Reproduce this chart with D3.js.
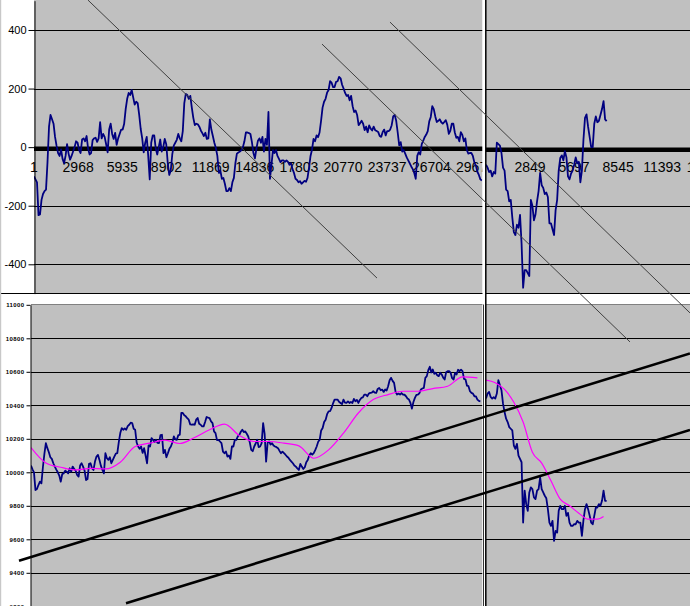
<!DOCTYPE html>
<html><head><meta charset="utf-8">
<script src="https://cdn.jsdelivr.net/npm/d3@7"></script>
<style>html,body{margin:0;padding:0;background:#fff;overflow:hidden}</style>
</head><body><svg id="c" width="690" height="606"></svg>
<script>
// ---------------- data ----------------
const topTicks = [400, 200, 0, -200, -400];
const bottomTicks = [11000, 10800, 10600, 10400, 10200, 10000, 9800, 9600, 9400, 9200];
const leftCatLabels = [1, 2968, 5935, 8902, 11869, 14836, 17803, 20770, 23737, 26704, 29671];
const rightCatLabels = [2849, 5697, 8545, 11393, 14241];

const TL_STEP = 202;   // category spacing of the on-grid samples (left upper chart)
const BL_STEP = 200;   // left lower chart
const R_STEP = 200;    // right charts

// upper left: on-grid samples and the readings half-way between them
const topLeftValues = [
  -100, -120, -230, -160, -145, 70, 95, 35, -20, -8,
  -55, 10, -43, -15, 20, -10, 26, 20, -5, -20,
  30, 18, 85, 45, 10, 60, 45, 49, 30, 60,
  80, 165, 178, 170, 155, 110, 30, 15, -30, 15,
  40, -25, 26, 0, 10, -95, -25, 15, 45, 20,
  150, 178, 175, 100, 80, 70, 48, 49, 30, 60,
  15, -30, -80, -105, -150, -140, -120, -55, -18, -10,
  20, 50, 45, -20, -5, 30, 35, 28, 120, -60,
  -20, -30, -51, -45, -45, -60, -75, -108, -120, -125,
  -115, -105, -30, 28, 40, 50, 135, 165, 195, 220,
  205, 225, 235, 200, 175, 160, 140, 125, 75, 90,
  58, 51, 63, 70, 55, 38, 52, 40, 55, 75,
  110, 50, 17, -10, -35, -55, -75, -108, -17, 10,
  35, 55, 103, 130, 86, 95, 80, 92, 45, 80,
  50, 35, 51, 20, -10, -20, -30, -63, -95, -114
];
const topLeftMid = [
  -110, -232, -180, -150, -50, 110, 80, 5, -30, -40,
  -30, -22, -30, 0, 15, -20, 30, 38, -25, 24,
  32, 30, 30, 35, -18, 80, 28, 8, 45, 60,
  130, 185, 195, 145, 150, 62, -18, 35, -110, 40,
  -5, 0, -15, 28, -55, -80, 5, 25, 30, 55,
  182, 165, 135, 75, 78, 57, 38, 28, 95, 38,
  -3, -88, -108, -125, -150, -150, -105, -22, -15,
  0, 50, 48, 17, -38, 22, 15, -15, 8, -108,
  -10, -10, -40, -45, -50, -50, -55, -88, -112, -116,
  -120, -118, -70, -8, 20, 34, 90, 155, 186, 225,
  205, 223, 240, 213, 185, 178, 175, 120, 110, 82,
  80, 70, 74, 57, 58, 52, 35, 60, 55, 60,
  105, 90, 6, -15, -22, -45, -66, -88, -30, -25,
  22, 43, 88, 140, 105, 90, 85, 86, 76, 56,
  80, 32, 20, 42, 30, -22, -20, -52, -84, -110
];

const topRightValues = [
  -60, -85, -100, -90, 10, -20, -80, -150, -180, -290,
  -265, -231, -480, -420, -440, -200, -230, -150, -130, -160,
  -170, -260, -300, -180, -37, -45, -35, -110, -80, -35,
  -50, -80, 100, 70, 0, 80, 85, 110, 157, 89
];
const topRightMid = [
  -70, -80, -85, 15, 5, -70, -145, -185, -240, -300,
  -275, -330, -420, -430, -180, -250, -185, -88, -139, -155,
  -260, -280, -215, -80, -28, -14, -100, -90, -60, -55,
  -120, 25, 112, 35, 0, 105, 90, 130, 95
];

const bottomLeftValues = [
  10040, 10000, 9900, 9944, 10030, 10174, 10120, 10080, 10034, 10000,
  9944, 9994, 10004, 10024, 10034, 10010, 9974, 10054, 10010, 9960,
  10054, 10014, 10094, 10074, 10014, 10114, 10074, 10054, 10094, 10114,
  10234, 10254, 10254, 10284, 10294, 10254, 10154, 10154, 10144, 10054,
  10154, 10194, 10194, 10174, 10224, 10134, 10114, 10154, 10214, 10194,
  10224, 10354, 10334, 10314, 10284, 10284, 10324, 10284, 10274, 10330,
  10324, 10294, 10234, 10194, 10174, 10114, 10094, 10080, 10154, 10194,
  10224, 10254, 10244, 10214, 10134, 10154, 10194, 10154, 10294, 10064,
  10184, 10174, 10154, 10144, 10114, 10114, 10094, 10074, 10054, 10034,
  10014, 10034, 10030, 10074, 10114, 10114, 10154, 10194, 10264, 10314,
  10364, 10384, 10434, 10434, 10414, 10434, 10414, 10414, 10414, 10424,
  10414, 10444, 10464, 10454, 10474, 10484, 10474, 10504, 10494, 10494,
  10514, 10564, 10534, 10464, 10464, 10464, 10454, 10434, 10380, 10444,
  10464, 10494, 10504, 10574, 10630, 10614, 10594, 10574, 10584, 10554,
  10604, 10594, 10554, 10584, 10604, 10604, 10554, 10514, 10474, 10454,
  10434, 10424
];
const bottomLeftMid = [
  10018, 9894, 9924, 9934, 10110, 10144, 10090, 10054, 10016, 9980,
  9990, 10010, 9994, 10004, 10020, 9984, 10040, 10034, 9954, 10050,
  10024, 10064, 10104, 10038, 9994, 10084, 10090, 10074, 10112, 10180,
  10264, 10262, 10276, 10296, 10260, 10178, 10140, 10116, 10100, 10160,
  10204, 10180, 10176, 10222, 10114, 10090, 10140, 10178, 10196, 10222,
  10354, 10340, 10323, 10286, 10286, 10314, 10290, 10274, 10300, 10326,
  10304, 10244, 10192, 10184, 10124, 10124, 10100, 10154, 10194,
  10214, 10242, 10240, 10230, 10180, 10126, 10172, 10150, 10174, 10230,
  10175, 10166, 10160, 10150, 10128, 10123, 10105, 10087, 10064, 10041,
  10023, 10050, 10020, 10060, 10100, 10105, 10132, 10182, 10250, 10300,
  10347, 10365, 10412, 10434, 10421, 10407, 10416, 10423, 10420, 10438,
  10432, 10432, 10447, 10464, 10470, 10476, 10476, 10498, 10490, 10480,
  10488, 10550, 10546, 10480, 10470, 10473, 10463, 10440, 10414, 10420,
  10462, 10472, 10500, 10564, 10610, 10596, 10588, 10580, 10594, 10565,
  10598, 10604, 10562, 10594, 10612, 10612, 10558, 10517, 10484, 10470,
  10453, 10426
];

// moving average, one value every 5 on-grid samples
const bottomLeftMA = [
  10148, 10056, 10030, 10014, 10024, 10020, 10060, 10154, 10174, 10192,
  10172, 10208, 10254, 10288, 10220, 10184, 10184, 10174, 10158, 10084,
  10134, 10234, 10354, 10434, 10464, 10484, 10484, 10500, 10514, 10570,
  10564
];

const bottomRightValues = [
  10440, 10480, 10440, 10440, 10550, 10490, 10360, 10300, 10260, 10160,
  10170, 10080, 9700, 9810, 9880, 9900, 9840, 9900, 9900, 9860,
  9780, 9680, 9590, 9640, 9800, 9780, 9740, 9700, 9680, 9690,
  9700, 9620, 9780, 9780, 9700, 9740, 9790, 9800, 9890, 9830
];
const bottomRightMid = [
  10470, 10450, 10448, 10470, 10520, 10410, 10320, 10270, 10250, 10140,
  10100, 10060, 9890, 9770, 9910, 9850, 9890, 9970, 9880, 9845,
  9700, 9710, 9650, 9770, 9780, 9800, 9758, 9680, 9690, 9710,
  9700, 9715, 9810, 9742, 9690, 9790, 9810, 9830, 9830
];
const bottomRightMAIdx = [0, 3, 6, 9, 12, 15, 18, 21, 24, 27, 30, 33, 36, 38];
const bottomRightMA = [10550, 10535, 10495, 10418, 10300, 10120, 10055, 9950, 9840, 9800, 9756, 9720, 9720, 9736];

// hand-drawn trend lines: [cat1, value1, cat2, value2]
const topTrendLines = [
  [3630, 502, 23051, -447],
  [19355, 352, 40052, -665],
  [23924, 427, 44084, -566]
];
const bottomTrendLines = [
  [-805, 9472, 44286, 10710],
  [6385, 9218, 44286, 10253]
];

// put the half-step readings between the on-grid samples
function interleave(a, b) {
  const out = [];
  a.forEach((v, i) => { out.push(v); if (i < b.length) out.push(b[i]); });
  return out;
}

// ---------------- scales ----------------
const W = 690, H = 606;
const xTL = d3.scaleLinear().domain([1, 29671]).range([34, 475.5]);
const xBL = d3.scaleLinear().domain([1, 29671]).range([31, 472.5]);
const xR  = d3.scaleLinear().domain([1, 14241]).range([486, 706.25]);
const yTop = d3.scaleLinear().domain([-500, 500]).range([293.6, 0.7]);
const yBot = d3.scaleLinear().domain([9200, 11000]).range([606.3, 304.8]);

const leftEnd = 482.5, rightStart = 486;
const topBottom = 293, botTop = 304.5;

const svg = d3.select('#c');
const defs = svg.append('defs');
function clip(id, x0, y0, x1, y1) {
  defs.append('clipPath').attr('id', id).append('rect')
    .attr('x', x0).attr('y', y0).attr('width', x1 - x0).attr('height', y1 - y0);
}
clip('cTL', 34, 0, leftEnd, topBottom);
clip('cTR', rightStart, 0, W, topBottom);
clip('cBL', 31, botTop, leftEnd, H);
clip('cBR', rightStart, botTop, W, H);
clip('cTLlab', 0, 0, leftEnd, topBottom);

svg.append('rect').attr('width', W).attr('height', H).attr('fill', '#fff');

// plot areas
const gray = '#C0C0C0';
svg.append('rect').attr('x', 34).attr('y', 0).attr('width', leftEnd - 34).attr('height', topBottom).attr('fill', gray);
svg.append('rect').attr('x', rightStart).attr('y', 0).attr('width', W - rightStart).attr('height', topBottom).attr('fill', gray);
svg.append('rect').attr('x', 31).attr('y', botTop).attr('width', leftEnd - 31).attr('height', H - botTop).attr('fill', gray);
svg.append('rect').attr('x', rightStart).attr('y', botTop).attr('width', W - rightStart).attr('height', H - botTop).attr('fill', gray);

const crisp = v => Math.round(v) + 0.5;

// grid lines
function grid(x0, x1, ticks, y, skip) {
  svg.append('g').selectAll('line').data(ticks.filter(t => t !== skip)).join('line')
    .attr('x1', x0).attr('x2', x1)
    .attr('y1', d => crisp(y(d))).attr('y2', d => crisp(y(d)))
    .attr('stroke', '#000').attr('stroke-width', 1);
}
grid(34, leftEnd, topTicks, yTop, 0);
grid(rightStart, W, topTicks, yTop, 0);
grid(31, leftEnd, bottomTicks.filter(t => t !== 11000), yBot);
grid(rightStart, W, bottomTicks.filter(t => t !== 11000), yBot);

// bottom plot top border
svg.append('line').attr('x1', 31).attr('x2', W).attr('y1', botTop).attr('y2', botTop)
  .attr('stroke', '#808080').attr('stroke-width', 1);

// thick zero lines
svg.append('line').attr('x1', 34).attr('x2', leftEnd).attr('y1', yTop(0) + 1.6).attr('y2', yTop(0) + 1.6)
  .attr('stroke', '#000').attr('stroke-width', 4.5);
svg.append('line').attr('x1', rightStart).attr('x2', W).attr('y1', yTop(0) + 2.6).attr('y2', yTop(0) + 2.6)
  .attr('stroke', '#000').attr('stroke-width', 4.5);

// category labels on the zero axis
const labFont = 'Liberation Sans, Arial, sans-serif';
svg.append('g').attr('clip-path', 'url(#cTLlab)').selectAll('text').data(leftCatLabels).join('text')
  .attr('x', d => xTL(d)).attr('y', yTop(0) + 25.3)
  .attr('text-anchor', 'middle').attr('font-family', labFont).attr('font-size', 14).attr('fill', '#000')
  .text(d => d);
svg.append('g').selectAll('text').data(rightCatLabels).join('text')
  .attr('x', d => xR(d)).attr('y', yTop(0) + 25.3)
  .attr('text-anchor', 'middle').attr('font-family', labFont).attr('font-size', 14).attr('fill', '#000')
  .text(d => d);

// series
const blue = '#000080';
function series(clipId, values, mid, x, y, step) {
  const pts = interleave(values, mid);
  svg.append('path').attr('clip-path', `url(#${clipId})`)
    .attr('d', d3.line().x((d, i) => x(1 + i * step / 2)).y(d => y(d))(pts))
    .attr('fill', 'none').attr('stroke', blue).attr('stroke-width', 1.8).attr('stroke-linejoin', 'round');
}
series('cTL', topLeftValues, topLeftMid, xTL, yTop, TL_STEP);
series('cTR', topRightValues, topRightMid, xR, yTop, R_STEP);
series('cBL', bottomLeftValues, bottomLeftMid, xBL, yBot, BL_STEP);
series('cBR', bottomRightValues, bottomRightMid, xR, yBot, R_STEP);

svg.append('path').attr('clip-path', 'url(#cBL)')
  .attr('d', d3.line().x((d, i) => xBL(1 + i * 5 * BL_STEP)).y(d => yBot(d)).curve(d3.curveMonotoneX)(bottomLeftMA))
  .attr('fill', 'none').attr('stroke', '#FF00FF').attr('stroke-width', 1.2);
svg.append('path').attr('clip-path', 'url(#cBR)')
  .attr('d', d3.line().x((d, i) => xR(1 + bottomRightMAIdx[i] * R_STEP)).y(d => yBot(d)).curve(d3.curveMonotoneX)(bottomRightMA))
  .attr('fill', 'none').attr('stroke', '#FF00FF').attr('stroke-width', 1.2);

// y axes
const axTop = svg.append('g').attr('transform', 'translate(34.5,0)')
  .call(d3.axisLeft(yTop).tickValues(topTicks).tickSize(6).tickSizeOuter(0).tickPadding(2).tickFormat(d => d));
axTop.selectAll('text').attr('font-family', labFont).attr('font-size', 11).attr('fill', '#000');
axTop.select('.domain').attr('stroke', '#000');
axTop.selectAll('.tick line').attr('stroke', '#000');

const axBot = svg.append('g').attr('transform', 'translate(30.5,0)')
  .call(d3.axisLeft(yBot).tickValues(bottomTicks).tickSize(4).tickSizeOuter(0).tickPadding(2).tickFormat(d => d));
axBot.selectAll('text').attr('font-family', labFont).attr('font-size', 6).attr('font-weight', 'bold')
  .attr('letter-spacing', 0.4).attr('fill', '#000');
axBot.select('.domain').attr('stroke', '#000');
axBot.selectAll('.tick line').attr('stroke', '#000');

// panel divider and left edge
svg.append('line').attr('x1', 0).attr('x2', W).attr('y1', topBottom + 0.5).attr('y2', topBottom + 0.5)
  .attr('stroke', '#000').attr('stroke-width', 1);
svg.append('line').attr('x1', 0.6).attr('x2', 0.6).attr('y1', 0).attr('y2', H)
  .attr('stroke', '#C8C8C8').attr('stroke-width', 1.2);

// vertical separator between the two screenshots
svg.append('rect').attr('x', leftEnd).attr('y', 0).attr('width', rightStart - leftEnd).attr('height', H).attr('fill', '#fff');
svg.append('line').attr('x1', 483.5).attr('x2', 483.5).attr('y1', botTop).attr('y2', H).attr('stroke', '#000').attr('stroke-width', 0.8);
svg.append('line').attr('x1', rightStart - 0.2).attr('x2', rightStart - 0.2).attr('y1', 0).attr('y2', H)
  .attr('stroke', '#000').attr('stroke-width', 1.5);

// hand-drawn trend lines on top
svg.append('g').selectAll('line').data(topTrendLines).join('line')
  .attr('x1', d => xTL(d[0])).attr('y1', d => yTop(d[1]))
  .attr('x2', d => xTL(d[2])).attr('y2', d => yTop(d[3]))
  .attr('stroke', '#404040').attr('stroke-width', 1);
svg.append('g').selectAll('line').data(bottomTrendLines).join('line')
  .attr('x1', d => xBL(d[0])).attr('y1', d => yBot(d[1]))
  .attr('x2', d => xBL(d[2])).attr('y2', d => yBot(d[3]))
  .attr('stroke', '#000').attr('stroke-width', 2.6);
</script></body></html>
